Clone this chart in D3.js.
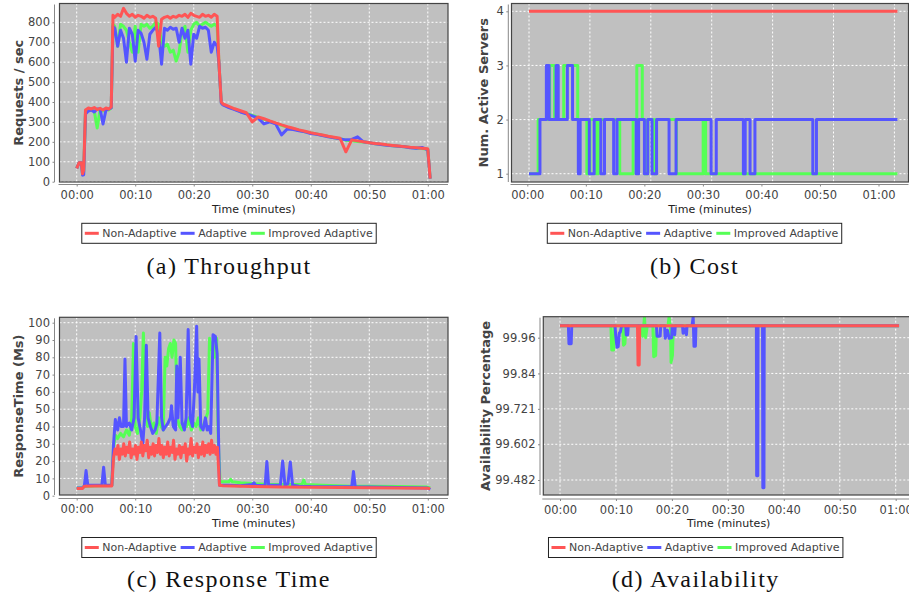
<!DOCTYPE html>
<html>
<head>
<meta charset="utf-8">
<title>Adaptive vs Non-Adaptive</title>
<script src="https://d3js.org/d3.v7.min.js"></script>
<style>
    body { margin: 0; background: #fff; }
    svg { display: block; font-family: "DejaVu Sans", sans-serif; }
    .tick text { font-size: 11.5px; fill: #444; font-family: "DejaVu Sans", sans-serif; }
    .tick line { stroke: #888; }
    .axis-line { stroke: #888; stroke-width: 1; }
    .y-title { font-size: 13px; font-weight: bold; fill: #444; }
    .x-title { font-size: 11px; fill: #222; }
    .legend-text { font-size: 11px; fill: #444; }
    .caption { font-family: "Liberation Serif", serif; font-size: 24px; fill: #111; letter-spacing: 1.4px; }
    .grid { stroke: #fff; stroke-width: 1; stroke-dasharray: 2,2; }
    .series { fill: none; stroke-width: 3; stroke-linejoin: round; }
</style>
</head>
<body>
<div id="chart"></div>
<script>
// series names + colours (JFreeChart light red / blue / green)
const seriesNames = ["Non-Adaptive", "Adaptive", "Improved Adaptive"];
const seriesColors = ["#ff5555", "#5555ff", "#55ff55"];

const timeTicks = [0, 10, 20, 30, 40, 50, 60];
const timeLabels = ["00:00", "00:10", "00:20", "00:30", "00:40", "00:50", "01:00"];

// (a) throughput, minutes -> requests/sec
const tputTime = [0, 0.4, 0.8, 1.0, 1.2, 1.5, 2, 2.5, 3, 3.5, 4, 4.5, 5, 5.5, 5.9,
    6.2, 6.5, 7, 7.5, 8, 8.5, 9, 9.5, 10, 10.5, 11, 11.5, 12, 12.5, 13, 13.5, 14, 14.5, 15, 15.5,
    16, 16.5, 17, 17.5, 18, 18.5, 19, 19.5, 20, 20.5, 21, 21.5, 22, 22.5, 23, 23.5, 24, 24.3,
    24.7, 25, 26, 27, 28, 29, 30, 31, 32, 33, 34, 35, 36, 37, 38, 39, 40, 41, 42, 43, 44, 45,
    46, 47, 48, 49, 50, 51, 52, 53, 54, 55, 56, 57, 58, 59, 60, 60.4];
const tputNonAdaptive = [67, 95, 95, 40, 60, 360, 370, 365, 372, 362, 368, 360, 370, 365, 375,
    835, 825, 840, 830, 870, 845, 830, 840, 825, 835, 830, 820, 835, 825, 830, 820, 680, 815, 825, 830,
    820, 830, 825, 835, 830, 840, 825, 845, 835, 830, 825, 840, 830, 835, 825, 840, 830, 600,
    400, 390, 378, 366, 356, 346, 300, 325, 316, 305, 295, 285, 276, 268, 260, 253, 246, 240, 234, 228, 223, 218,
    150, 210, 205, 200, 196, 192, 189, 185, 182, 179, 176, 173, 171, 168, 165, 15];
const tputAdaptive = [67, 95, 95, 33, 35, 340, 355, 360, 350, 365, 365, 290, 360, 365, 370,
    780, 770, 680, 760, 720, 600, 770, 740, 605, 760, 745, 700, 615, 740, 760, 775, 740, 590, 770, 760,
    775, 765, 770, 700, 770, 720, 760, 590, 740, 720, 780, 770, 775, 760, 650, 700, 680, 600,
    395, 385, 372, 362, 350, 340, 330, 320, 290, 300, 290, 235, 265, 262, 255, 250, 242, 238, 232, 225, 220, 215,
    210, 212, 225, 200, 195, 190, 187, 183, 180, 178, 175, 170, 168, 172, 160, 15];
const tputImproved = [67, 95, 95, 40, 50, 350, 360, 365, 355, 270, 360, 355, 365, 360, 370,
    790, 780, 680, 790, 780, 760, 700, 650, 780, 650, 790, 780, 790, 770, 780, 800, 790, 700, 680, 690,
    650, 660, 605, 650, 760, 780, 650, 760, 790, 800, 780, 790, 800, 790, 780, 790, 780, 600,
    398, 388, 374, 364, 352, 343, 333, 323, 313, 303, 293, 283, 274, 266, 258, 251, 245, 239, 233, 227, 221, 216,
    208, 205, 202, 199, 195, 191, 187, 184, 181, 178, 175, 172, 169, 166, 163, 15];
const tputTicks = [0, 100, 200, 300, 400, 500, 600, 700, 800];

// (b) cost: [minute, active servers] at each change (step after)
const costNonAdaptive = [[0, 4], [60.5, 4]];
const costAdaptive = [[0, 1], [1.8, 2], [2.85, 3], [3.3, 2], [4.45, 3], [4.8, 2], [6.3, 3], [7.15, 2],
    [8.1, 1], [8.4, 2], [9.9, 1], [10.7, 2], [11.8, 1], [12.4, 2], [13.9, 1], [14.45, 2], [17.6, 1], [18.0, 2],
    [18.95, 1], [19.5, 2], [20.2, 1], [20.95, 2], [23.0, 1], [24.15, 2], [29.9, 1], [30.75, 2], [35.2, 1],
    [35.5, 2], [36.3, 1], [37.1, 2], [46.6, 1], [47.2, 2], [60.5, 2]];
const costImproved = [[0, 1], [1.5, 2], [3.4, 3], [4.2, 2], [5.7, 3], [8.0, 2], [9.5, 1], [10.0, 2],
    [11.0, 1], [11.4, 2], [14.9, 1], [17.1, 2], [17.7, 3], [18.6, 2], [19.0, 1], [19.5, 2], [20.6, 1],
    [20.9, 2], [24.2, 1], [28.6, 2], [29.0, 1], [60.5, 1]];
const costTicks = [1, 2, 3, 4];

// (c) response time: [minute, ms]
const rtNonAdaptive = [[0, 4.2], [1, 4.2], [1.3, 5.5], [3, 5.6], [6, 5.6], [6.3, 22], [6.55, 27], [6.8, 24],
    [7.05, 29], [7.3, 21], [7.55, 27], [7.8, 24], [8.05, 30], [8.3, 23], [8.55, 28], [8.8, 25], [9.05, 31],
    [9.3, 22], [9.55, 27], [9.8, 24], [10.05, 29], [10.3, 21], [10.55, 28], [10.8, 25], [11.05, 31], [11.3, 23],
    [11.55, 29], [11.8, 26], [12.05, 32], [12.3, 22], [12.55, 28], [12.8, 24], [13.05, 30], [13.3, 23],
    [13.55, 29], [13.8, 25], [14.05, 33], [14.3, 24], [14.55, 29], [14.8, 22], [15.05, 28], [15.3, 24],
    [15.55, 31], [15.8, 23], [16.05, 28], [16.3, 25], [16.55, 32], [16.8, 21], [17.05, 27], [17.3, 24],
    [17.55, 29], [17.8, 22], [18.05, 28], [18.3, 25], [18.55, 30], [18.8, 20], [19.05, 27], [19.3, 24],
    [19.55, 33], [19.8, 23], [20.05, 28], [20.3, 25], [20.55, 30], [20.8, 22], [21.05, 28], [21.3, 24],
    [21.55, 31], [21.8, 23], [22.05, 29], [22.3, 25], [22.55, 30], [22.8, 24], [23.05, 32], [23.3, 25],
    [23.55, 29], [23.8, 24], [24.05, 28], [24.4, 6], [25, 5.8], [30, 5.3], [35, 5], [40, 4.9], [45, 4.8],
    [50, 4.6], [55, 4.5], [60, 4.3], [60.4, 4]];
const rtAdaptive = [[0, 4.5], [1, 4.5], [1.3, 5.5], [1.6, 14.5], [1.9, 6], [3, 6], [4.3, 6], [4.6, 16.5],
    [4.9, 6], [6, 6], [6.3, 30], [6.6, 44], [7, 38], [7.3, 45], [7.6, 40], [8, 40], [8.25, 79], [8.5, 40],
    [9, 42], [9.4, 38], [9.8, 45], [10.15, 92], [10.5, 45], [10.9, 38], [11.3, 30], [11.6, 45], [11.9, 87],
    [12.2, 45], [12.6, 40], [13, 36], [13.4, 38], [13.7, 42], [14.2, 94], [14.5, 45], [14.8, 38], [15.2, 40],
    [15.6, 42], [16, 45], [16.2, 52], [16.5, 40], [16.9, 38], [17.1, 75], [17.3, 45], [17.7, 80], [18, 42],
    [18.4, 38], [18.7, 45], [19.05, 96], [19.4, 45], [19.8, 40], [20.1, 60], [20.5, 98], [20.7, 60], [20.9, 79],
    [21.2, 40], [21.6, 38], [22, 45], [22.3, 38], [22.6, 40], [22.9, 36], [23.3, 93], [23.7, 92], [24, 82],
    [24.2, 40], [24.4, 6], [26, 6], [28, 5.8], [30, 6.5], [30.3, 7.5], [30.6, 6], [32.2, 5.8], [32.5, 19.7],
    [32.8, 6], [34.8, 6], [35.2, 20], [35.6, 6], [36.1, 7], [36.5, 19.5], [36.9, 6], [38, 5.5], [40, 5.3],
    [47, 5.2], [47.3, 14], [47.6, 5.2], [50, 5], [55, 4.8], [60, 4.5], [60.4, 3.5]];
const rtImproved = [[0, 4.5], [1, 4.5], [1.3, 5.5], [6, 6], [6.3, 28], [6.6, 35], [7, 33], [7.5, 36], [8, 34],
    [8.5, 38], [9, 35], [9.4, 45], [9.7, 88], [10, 40], [10.4, 36], [10.8, 45], [11.1, 60], [11.4, 94], [11.7, 60],
    [12.1, 40], [12.4, 48], [12.8, 38], [13.2, 42], [13.6, 36], [14, 45], [14.4, 40], [14.8, 38], [15.1, 80],
    [15.4, 75], [15.7, 85], [16, 88], [16.3, 80], [16.6, 90], [16.9, 88], [17.2, 45], [17.6, 40], [18, 38],
    [18.4, 42], [18.8, 40], [19.2, 45], [19.6, 38], [20, 42], [20.4, 40], [20.8, 45], [21.2, 38], [21.6, 40],
    [22, 44], [22.4, 48], [22.7, 91], [23.1, 85], [23.5, 80], [23.9, 91], [24.2, 30], [24.5, 8], [26, 8],
    [26.3, 9.5], [26.6, 8], [28, 7.5], [30, 7], [33, 6.5], [38.5, 6.5], [38.8, 9], [39.1, 6.5], [42, 6],
    [47, 5.5], [50, 5.5], [55, 5.3], [60, 5], [60.4, 4.5]];
const rtTicks = [0, 10, 20, 30, 40, 50, 60, 70, 80, 90, 100];

// (d) availability: [minute, percent]
const availNonAdaptive = [[0, 100], [13.85, 100], [13.95, 99.868], [14.15, 99.868], [14.25, 100], [60.6, 100]];
const availAdaptive = [[0, 100], [1.5, 100], [1.6, 99.94], [2.0, 99.94], [2.1, 100], [9.85, 100], [9.95, 99.97],
    [10.2, 99.928], [10.4, 99.93], [10.6, 99.975], [10.8, 99.98], [11.0, 100], [11.75, 100], [11.85, 99.969],
    [12.1, 99.97], [12.2, 100], [17.25, 100], [17.35, 99.965], [17.9, 99.965], [18.0, 100], [18.7, 100],
    [18.8, 99.958], [19.2, 99.985], [19.5, 99.958], [19.95, 99.96], [20.05, 100], [20.25, 99.975], [20.5, 99.97],
    [20.6, 100], [21.9, 100], [22.0, 99.975], [22.3, 99.99], [22.6, 99.97], [22.7, 100], [23.6, 100], [23.8, 100.03],
    [23.95, 99.931], [24.2, 99.931], [24.3, 100], [35.1, 100], [35.15, 99.496], [35.35, 99.496], [35.4, 100],
    [36.2, 100], [36.25, 99.456], [36.45, 99.456], [36.5, 100], [60.6, 100]];
const availImproved = [[0, 100], [9.1, 100], [9.25, 99.919], [9.6, 99.919], [9.75, 100], [11.2, 100],
    [11.35, 99.935], [11.6, 99.94], [11.75, 100], [14.5, 100], [14.8, 99.965], [15.1, 100.03], [15.3, 99.96],
    [15.6, 100], [16.6, 100], [16.75, 99.896], [17.1, 99.9], [17.25, 100], [19.3, 100], [19.5, 100.03],
    [19.75, 99.99], [19.85, 99.877], [20.1, 99.9], [20.25, 100], [60.6, 100]];
const availTicks = [99.96, 99.84, 99.721, 99.602, 99.482];

const width = 909, height = 599;

const svg = d3.select("#chart").append("svg")
    .attr("width", width)
    .attr("height", height);

// panel layout (pixel frames)
const panels = [
    {
        id: "a", plot: {l: 59.5, t: 3.5, r: 448, b: 182},
        xRange: [76.7, 427.8], yDomain: [0, 800], yRange: [181.7, 22.3],
        yTicks: tputTicks, yFormat: d => d, yTitle: "Requests / sec", yTitleX: 18,
        axisX: 54.5, axisY: 184.5, xTitleY: 213, legendY: 233.3, cx: 229, captionY: 274,
        caption: "(a) Throughput", step: false,
        series: [d3.zip(tputTime, tputImproved), d3.zip(tputTime, tputAdaptive), d3.zip(tputTime, tputNonAdaptive)]
    },
    {
        id: "b", plot: {l: 511.5, t: 3.5, r: 908.5, b: 182},
        xRange: [529, 894.4], xLabelRange: [527.3, 878.5], yDomain: [1, 4], yRange: [173.7, 11.3],
        yTicks: costTicks, yFormat: d => d, yTitle: "Num. Active Servers", yTitleX: 483.7,
        axisX: 508.3, axisY: 184.5, xTitleY: 213, legendY: 233.3, cx: 694.5, captionY: 274,
        caption: "(b) Cost", step: true,
        series: [costImproved, costAdaptive, costNonAdaptive]
    },
    {
        id: "c", plot: {l: 59.5, t: 317.3, r: 448, b: 495},
        xRange: [76.7, 427.8], yDomain: [0, 100], yRange: [495.7, 322.7],
        yTicks: rtTicks, yFormat: d => d, yTitle: "ResponseTime (Ms)", yTitleX: 18.3,
        axisX: 54.5, axisY: 498.5, xTitleY: 527, legendY: 547.5, cx: 229, captionY: 587,
        caption: "(c) Response Time", step: false,
        series: [rtImproved, rtAdaptive, rtNonAdaptive]
    },
    {
        id: "d", plot: {l: 543.3, t: 316.7, r: 914, b: 495},
        xRange: [560, 895.7], yDomain: [99.482, 99.96], yRange: [480, 337.7],
        yTicks: availTicks, yFormat: d => String(d), yTitle: "Availability Percentage", yTitleX: 485,
        axisX: 540, axisY: 499, xTitleY: 527, legendY: 547.5, cx: 695.7, captionY: 587,
        caption: "(d) Availability", step: false,
        series: [availImproved, availAdaptive, availNonAdaptive]
    }
];

// draw order: improved (green), adaptive (blue), non-adaptive (red) on top
const drawColors = [seriesColors[2], seriesColors[1], seriesColors[0]];

function drawPanel(p) {
    const g = svg.append("g").attr("class", "panel-" + p.id);
    const pw = p.plot.r - p.plot.l, ph = p.plot.b - p.plot.t;

    const x = d3.scaleLinear().domain([0, 60]).range(p.xRange);
    const xLab = d3.scaleLinear().domain([0, 60]).range(p.xLabelRange || p.xRange);
    const y = d3.scaleLinear().domain(p.yDomain).range(p.yRange);

    g.append("rect")
        .attr("x", p.plot.l).attr("y", p.plot.t)
        .attr("width", pw).attr("height", ph)
        .attr("fill", "#c0c0c0");

    // grid
    g.selectAll(".vgrid").data(timeTicks).join("line")
        .attr("class", "grid")
        .attr("x1", d => x(d)).attr("x2", d => x(d))
        .attr("y1", p.plot.t).attr("y2", p.plot.b);
    g.selectAll(".hgrid").data(p.yTicks).join("line")
        .attr("class", "grid")
        .attr("x1", p.plot.l).attr("x2", p.plot.r)
        .attr("y1", d => y(d)).attr("y2", d => y(d));

    // series, clipped to plot
    const clipId = "clip-" + p.id;
    svg.append("clipPath").attr("id", clipId).append("rect")
        .attr("x", p.plot.l).attr("y", p.plot.t)
        .attr("width", pw).attr("height", ph);

    const line = d3.line()
        .x(d => x(d[0]))
        .y(d => y(d[1]))
        .curve(p.step ? d3.curveStepAfter : d3.curveLinear);

    g.append("g").attr("clip-path", `url(#${clipId})`)
        .selectAll("path").data(p.series).join("path")
        .attr("class", "series")
        .attr("stroke", (d, i) => drawColors[i])
        .attr("d", line);

    // plot outline
    g.append("rect")
        .attr("x", p.plot.l).attr("y", p.plot.t)
        .attr("width", pw).attr("height", ph)
        .attr("fill", "none").attr("stroke", "#444").attr("stroke-width", 1.2);

    // axes (offset from the plot, jfreechart style)
    g.append("line").attr("class", "axis-line")
        .attr("x1", p.axisX).attr("x2", p.axisX)
        .attr("y1", p.plot.t + 1).attr("y2", p.plot.b);
    g.append("line").attr("class", "axis-line")
        .attr("x1", p.plot.l - 1).attr("x2", p.plot.r)
        .attr("y1", p.axisY).attr("y2", p.axisY);

    const yAxis = d3.axisLeft(y)
        .tickValues(p.yTicks)
        .tickFormat(p.yFormat)
        .tickSize(2).tickSizeOuter(0).tickPadding(2.5);
    g.append("g").attr("transform", `translate(${p.axisX},0)`).call(yAxis)
        .call(a => a.select(".domain").remove());

    const xAxis = d3.axisBottom(xLab)
        .tickValues(timeTicks)
        .tickFormat((d, i) => timeLabels[i])
        .tickSize(2).tickSizeOuter(0).tickPadding(4.5);
    g.append("g").attr("transform", `translate(0,${p.axisY})`).call(xAxis)
        .call(a => a.select(".domain").remove());

    // axis titles
    g.append("text").attr("class", "y-title")
        .attr("transform", `translate(${p.yTitleX},${(p.plot.t + p.plot.b) / 2}) rotate(-90)`)
        .attr("text-anchor", "middle")
        .attr("dominant-baseline", "central")
        .text(p.yTitle);
    g.append("text").attr("class", "x-title")
        .attr("x", (p.plot.l + p.plot.r) / 2).attr("y", p.xTitleY)
        .attr("text-anchor", "middle")
        .text("Time (minutes)");

    drawLegend(g, p.cx, p.legendY);

    g.append("text").attr("class", "caption")
        .attr("x", p.cx).attr("y", p.captionY)
        .attr("text-anchor", "middle")
        .text(p.caption);
}

function drawLegend(g, cx, cy) {
    const lg = g.append("g");
    const box = lg.append("rect")
        .attr("fill", "#fff").attr("stroke", "#222").attr("stroke-width", 1);
    let xPos = 3;
    seriesNames.forEach((name, i) => {
        lg.append("line")
            .attr("x1", xPos).attr("x2", xPos + 14)
            .attr("y1", 0).attr("y2", 0)
            .attr("stroke", seriesColors[i]).attr("stroke-width", 3);
        const t = lg.append("text").attr("class", "legend-text")
            .attr("x", xPos + 17.5).attr("y", 0)
            .attr("dominant-baseline", "central")
            .text(name);
        xPos += 17.5 + t.node().getComputedTextLength() + 4;
    });
    const w = xPos - 4 + 3.5;
    box.attr("x", 0).attr("y", -10).attr("width", w).attr("height", 20);
    lg.attr("transform", `translate(${cx - w / 2},${cy})`);
}

panels.forEach(drawPanel);
</script>
</body>
</html>
